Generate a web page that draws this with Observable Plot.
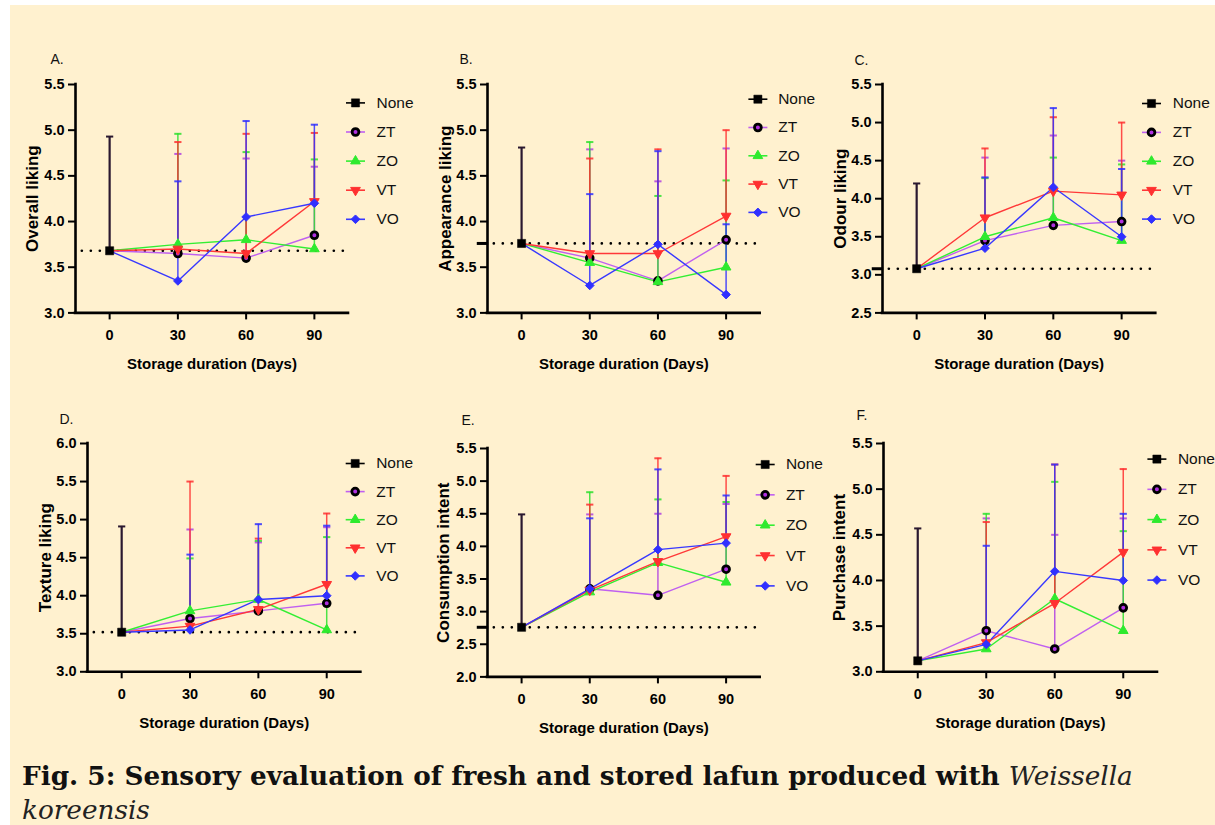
<!DOCTYPE html>
<html>
<head>
<meta charset="utf-8">
<script src="https://cdn.jsdelivr.net/npm/d3@7"></script>
<script src="https://cdn.jsdelivr.net/npm/@observablehq/plot@0.6"></script>
<style>
  html, body { margin: 0; padding: 0; }
  body { width: 1215px; height: 825px; overflow: hidden; position: relative; background: #ffffff; font-family: "Liberation Sans", Arial, sans-serif; }
  #bg { position: absolute; left: 10px; top: 5px; width: 1205px; height: 820px; background: #FFF1CF; }
  .panel { position: absolute; }
  .panel svg { display: block; max-width: none !important; }
  #title { position: absolute; left: 22px; top: 759px; font-family: "DejaVu Serif", "Liberation Serif", serif; font-weight: bold; font-size: 26.3px; line-height: 33px; color: #111; white-space: nowrap; }
  #title i { font-weight: normal; color: #222; }
</style>
</head>
<body>
<div id="bg"></div>
<div id="panels"></div>
<div id="title">Fig. 5: Sensory evaluation of fresh and stored lafun produced with <i>Weissella</i><br><i>koreensis</i></div>
<script>
// ---------------- data ----------------
const days = [0, 30, 60, 90];
const series = ["None", "ZT", "ZO", "VT", "VO"];
const treatments = ["ZT", "ZO", "VT", "VO"];
const xLabel = "Storage duration (Days)";

// [mean, upper end of error bar] for the untreated sample at day 0
// treatment rows: ZT, ZO, VT, VO ; columns: day 30, 60, 90
const overallNone = [3.68, 4.93];
const overallMean = [[3.65, 3.60, 3.85], [3.75, 3.80, 3.70], [3.70, 3.65, 4.22], [3.35, 4.05, 4.20]];
const overallUpper = [[4.74, 4.69, 4.60], [4.96, 4.76, 4.68], [4.87, 4.96, 4.97], [4.44, 5.10, 5.06]];

const appearanceNone = [3.76, 4.81];
const appearanceMean = [[3.60, 3.35, 3.80], [3.55, 3.34, 3.50], [3.65, 3.65, 4.06], [3.30, 3.75, 3.20]];
const appearanceUpper = [[4.79, 4.44, 4.80], [4.87, 4.28, 4.45], [4.69, 4.79, 5.00], [4.30, 4.77, 3.97]];

const odourNone = [3.08, 4.20];
const odourMean = [[3.45, 3.65, 3.70], [3.50, 3.75, 3.45], [3.75, 4.10, 4.05], [3.35, 4.15, 3.50]];
const odourUpper = [[4.54, 4.83, 4.50], [4.27, 4.54, 4.45], [4.66, 5.07, 5.00], [4.28, 5.19, 4.39]];

const textureNone = [3.52, 4.91];
const textureMean = [[3.70, 3.80, 3.90], [3.80, 3.95, 3.55], [3.60, 3.82, 4.15], [3.55, 3.95, 4.00]];
const textureUpper = [[4.87, 4.70, 4.90], [4.49, 4.72, 4.77], [5.50, 4.75, 5.08], [4.54, 4.94, 4.92]];

const consumptionNone = [2.76, 4.49];
const consumptionMean = [[3.35, 3.25, 3.65], [3.30, 3.75, 3.45], [3.33, 3.77, 4.15], [3.35, 3.95, 4.05]];
const consumptionUpper = [[4.49, 4.50, 4.65], [4.83, 4.72, 4.68], [4.64, 5.35, 5.08], [4.43, 5.18, 4.78]];

const purchaseNone = [3.12, 4.57];
const purchaseMean = [[3.45, 3.25, 3.70], [3.25, 3.80, 3.45], [3.32, 3.75, 4.31], [3.30, 4.10, 4.00]];
const purchaseUpper = [[4.68, 4.50, 4.68], [4.73, 5.08, 4.54], [4.64, 5.27, 5.22], [4.38, 5.27, 4.73]];

// tick labels
const ticks30to55 = [3.0, 3.5, 4.0, 4.5, 5.0, 5.5];
const ticks25to55 = [2.5, 3.0, 3.5, 4.0, 4.5, 5.0, 5.5];
const ticks30to60 = [3.0, 3.5, 4.0, 4.5, 5.0, 5.5, 6.0];
const ticks20to55 = [2.0, 2.5, 3.0, 3.5, 4.0, 4.5, 5.0, 5.5];

// ---------------- styles ----------------
const lineColors = ["#000000", "#C060F0", "#33EE33", "#FF3838", "#3838FF"];
const barColors = ["#2A1830", "#B040E0", "#2EE02E", "#FF3030", "#3030FF"];
const markFill = ["#000000", "#B030E0", "#2EEA2E", "#FF3030", "#3030FF"];

const triDown = {
  draw(ctx, size) {
    const s3 = Math.sqrt(3);
    const y = Math.sqrt(size / (s3 * 3));
    ctx.moveTo(0, y * 2);
    ctx.lineTo(-s3 * y, -y);
    ctx.lineTo(s3 * y, -y);
    ctx.closePath();
  }
};
const hline = {
  draw(ctx, size) {
    const r = Math.sqrt(size / Math.PI);
    ctx.moveTo(-r, 0);
    ctx.lineTo(r, 0);
  }
};
const markerStyle = [
  {symbol: "square", r: 4.6, fill: "#000000", stroke: "#000000", strokeWidth: 0.5},
  {symbol: "circle", r: 3.4, fill: markFill[1], stroke: "#000000", strokeWidth: 2.8},
  {symbol: "triangle", r: 3.6, fill: markFill[2], stroke: markFill[2], strokeWidth: 1},
  {symbol: triDown, r: 3.6, fill: markFill[3], stroke: markFill[3], strokeWidth: 1},
  {symbol: "diamond2", r: 3.9, fill: markFill[4], stroke: markFill[4], strokeWidth: 1}
];

// ---------------- layout ----------------
const panelDefs = [
  {letter: "A.", label: "Overall liking", none: overallNone, mean: overallMean, upper: overallUpper,
   yDomain: [3.0, 5.5], ticks: ticks30to55, dotted: true, dash: false,
   frame: [75, 348, 84.3, 312.7], legend: [355, 102.7, 29.1, 376], letterPos: [-25, -25], labelDx: -43},
  {letter: "B.", label: "Appearance liking", none: appearanceNone, mean: appearanceMean, upper: appearanceUpper,
   yDomain: [3.0, 5.5], ticks: ticks30to55, dotted: true, dash: true,
   frame: [487.3, 760, 84.3, 312.7], legend: [757.7, 99, 28.3, 778], letterPos: [-28, -25], labelDx: -42},
  {letter: "C.", label: "Odour liking", none: odourNone, mean: odourMean, upper: odourUpper,
   yDomain: [2.5, 5.5], ticks: ticks25to55, dotted: true, dash: true,
   frame: [881.7, 1155, 84.3, 312.7], legend: [1150.7, 103.3, 28.9, 1172], letterPos: [-28, -24], labelDx: -42},
  {letter: "D.", label: "Texture liking", none: textureNone, mean: textureMean, upper: textureUpper,
   yDomain: [3.0, 6.0], ticks: ticks30to60, dotted: true, dash: false,
   frame: [87.3, 360.7, 442.7, 671], legend: [355, 462.7, 28.1, 376], letterPos: [-28, -24], labelDx: -42},
  {letter: "E.", label: "Consumption intent", none: consumptionNone, mean: consumptionMean, upper: consumptionUpper,
   yDomain: [2.0, 5.5], ticks: ticks20to55, dotted: true, dash: true,
   frame: [487.3, 760, 448.3, 676.7], legend: [765, 464.3, 30.35, 785.7], letterPos: [-26, -28], labelDx: -44},
  {letter: "F.", label: "Purchase intent", none: purchaseNone, mean: purchaseMean, upper: purchaseUpper,
   yDomain: [3.0, 5.5], ticks: ticks30to55, dotted: false, dash: false,
   frame: [883.3, 1157.3, 442.7, 671], legend: [1156.7, 458.3, 30.25, 1177.7], letterPos: [-27, -28], labelDx: -44}
];

function build(none, mean, upper) {
  const line = [], marks = [], bars = [];
  marks.push({series: "None", day: 0, value: none[0]});
  bars.push({series: "None", day: 0, value: none[0], upper: none[1]});
  treatments.forEach((s, i) => {
    line.push({series: s, day: 0, value: none[0]});
    days.slice(1).forEach((d, j) => {
      const row = {series: s, day: d, value: mean[i][j], upper: upper[i][j]};
      line.push(row); marks.push(row); bars.push(row);
    });
  });
  return {line, marks, bars};
}

function drawPanel(cfg) {
  const [L, R, T, B] = cfg.frame;
  const mL = 80, mR = 80, mT = 50, mB = 72;
  const W = R - L + mL + mR, H = B - T + mT + mB;
  const {line, marks: pts, bars} = build(cfg.none, cfg.mean, cfg.upper);
  const marks = [];

  // error bars (upper only) with caps
  series.forEach((s, i) => {
    const b = bars.filter(d => d.series === s);
    marks.push(Plot.ruleX(b, {x: "day", y1: "value", y2: "upper", stroke: barColors[i], strokeWidth: i === 0 ? 2.2 : 1.5, strokeOpacity: i === 0 ? 1 : 0.85}));
    marks.push(Plot.dot(b, {x: "day", y: "upper", symbol: hline, r: 3.6, fill: "none", stroke: barColors[i], strokeWidth: 2, strokeOpacity: i === 0 ? 1 : 0.85}));
  });

  // dotted reference at the day-0 value
  if (cfg.dotted) {
    marks.push(Plot.ruleY([cfg.none[0]], {x1: -12, x2: 105, stroke: "#000", strokeWidth: 2.7, strokeDasharray: "0,9", strokeLinecap: "round"}));
  }
  if (cfg.dash) {
    marks.push(Plot.ruleY([cfg.none[0]], {x1: -19.5, x2: -14.5, stroke: "#000", strokeWidth: 3}));
  }

  // axis lines
  marks.push(Plot.ruleX([-15], {stroke: "#000", strokeWidth: 2.6, strokeLinecap: "square"}));
  marks.push(Plot.ruleY([cfg.yDomain[0]], {stroke: "#000", strokeWidth: 2.6, strokeLinecap: "square"}));

  marks.push(Plot.axisY({ticks: cfg.ticks, tickSize: 7, tickPadding: 4, tickFormat: d => d.toFixed(1),
    fontSize: 14.5, fontWeight: "bold", strokeWidth: 2, label: null}));
  marks.push(Plot.axisX({ticks: days, tickSize: 7, tickPadding: 10, tickFormat: d => String(d),
    fontSize: 14.5, fontWeight: "bold", strokeWidth: 2, label: null}));

  // series lines
  treatments.forEach((s, i) => {
    marks.push(Plot.line(line.filter(d => d.series === s), {x: "day", y: "value", stroke: lineColors[i + 1], strokeWidth: 1.4}));
  });
  // markers
  series.forEach((s, i) => {
    marks.push(Plot.dot(pts.filter(d => d.series === s), {x: "day", y: "value", ...markerStyle[i]}));
  });

  // legend
  const [lx, ly, sp, tx] = cfg.legend;
  series.forEach((s, i) => {
    const dy = ly + i * sp - T;
    marks.push(Plot.dot([s], {frameAnchor: "top-left", dx: lx - L, dy, symbol: hline, r: 9.5, fill: "none", stroke: lineColors[i], strokeWidth: 1.6}));
    marks.push(Plot.dot([s], {frameAnchor: "top-left", dx: lx - L, dy, ...markerStyle[i]}));
    marks.push(Plot.text([s], {frameAnchor: "top-left", dx: tx - L, dy, text: d => d, textAnchor: "start", lineAnchor: "middle", fontSize: 15.5, fill: "#111"}));
  });

  // titles
  marks.push(Plot.text([cfg.label], {frameAnchor: "left", dx: cfg.labelDx, rotate: -90, text: d => d, textAnchor: "middle", lineAnchor: "middle", fontSize: 17, fontWeight: "bold", fill: "#000"}));
  marks.push(Plot.text([xLabel], {frameAnchor: "bottom", dy: 51, text: d => d, textAnchor: "middle", lineAnchor: "middle", fontSize: 15, fontWeight: "bold", fill: "#000"}));
  marks.push(Plot.text([cfg.letter], {frameAnchor: "top-left", dx: cfg.letterPos[0], dy: cfg.letterPos[1], text: d => d, textAnchor: "start", lineAnchor: "middle", fontSize: 14, fill: "#111"}));

  const svg = Plot.plot({
    width: W, height: H,
    marginLeft: mL, marginRight: mR, marginTop: mT, marginBottom: mB,
    x: {domain: [-15, 105]},
    y: {domain: cfg.yDomain},
    style: {background: "transparent", fontFamily: "'Liberation Sans', Arial, sans-serif", color: "#000", overflow: "visible", maxWidth: "none"},
    marks
  });
  const div = document.createElement("div");
  div.className = "panel";
  div.style.left = (L - mL) + "px";
  div.style.top = (T - mT) + "px";
  div.style.width = W + "px";
  div.style.height = H + "px";
  div.appendChild(svg);
  document.getElementById("panels").appendChild(div);
}

panelDefs.forEach(drawPanel);
</script>
</body>
</html>
